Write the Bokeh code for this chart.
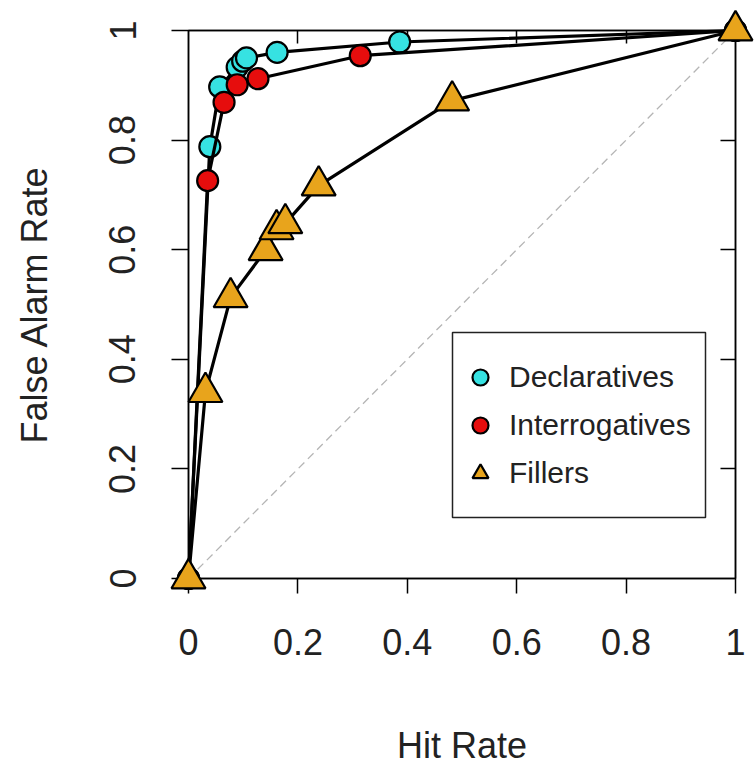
from bokeh.plotting import figure
from bokeh.models import Range1d, LinearAxis, FixedTicker, Legend, LegendItem, BoxAnnotation
from bokeh.embed import file_html
from bokeh.resources import INLINE

# ---- data ----
decl_x = [0.0, 0.039, 0.057, 0.089, 0.099, 0.106, 0.162, 0.386, 1.0]
decl_y = [0.0, 0.788, 0.897, 0.933, 0.944, 0.950, 0.960, 0.979, 1.0]
inter_x = [0.0, 0.035, 0.065, 0.089, 0.127, 0.314, 1.0]
inter_y = [0.0, 0.726, 0.869, 0.901, 0.912, 0.954, 1.0]
fill_x = [0.0, 0.031, 0.077, 0.141, 0.161, 0.177, 0.238, 0.482, 1.0]
fill_y = [0.0, 0.340, 0.513, 0.599, 0.637, 0.648, 0.717, 0.872, 1.0]
chance = [0.0, 1.0]
series_names = ["Declaratives", "Interrogatives", "Fillers"]
tick_values = [0, 0.2, 0.4, 0.6, 0.8, 1]
tick_labels = ["0", "0.2", "0.4", "0.6", "0.8", "1"]

FONT = "Liberation Sans"
TXT = "#222222"

p = figure(width=756, height=772, output_backend="svg", toolbar_location=None,
           x_range=Range1d(0, 1), y_range=Range1d(0, 1),
           x_axis_label="Hit Rate", y_axis_label="False Alarm Rate",
           min_border_left=188, min_border_right=21, min_border_top=30,
           min_border_bottom=194)
p.grid.visible = False
p.outline_line_color = "black"
p.outline_line_width = 1.5
p.background_fill_color = "white"
p.border_fill_color = "white"

overrides = {v: l for v, l in zip(tick_values, tick_labels)}

for ax in p.xaxis:
    ax.ticker = FixedTicker(ticks=tick_values)
    ax.major_label_overrides = overrides
    ax.major_tick_out = 15
    ax.major_tick_in = 0
    ax.minor_tick_out = 0
    ax.minor_tick_in = 0
    ax.major_label_standoff = 35
    ax.axis_label_standoff = 67
for ax in p.yaxis:
    ax.ticker = FixedTicker(ticks=tick_values)
    ax.major_label_overrides = overrides
    ax.major_tick_out = 17
    ax.major_tick_in = 0
    ax.minor_tick_out = 0
    ax.minor_tick_in = 0
    ax.major_label_orientation = "vertical"
    ax.major_label_standoff = 36
    ax.axis_label_standoff = 52
for ax in list(p.xaxis) + list(p.yaxis):
    ax.axis_line_color = "black"
    ax.axis_line_width = 1.5
    ax.major_tick_line_color = "black"
    ax.major_tick_line_width = 1.5
    ax.major_label_text_font = FONT
    ax.major_label_text_font_size = "36px"
    ax.major_label_text_color = TXT
    ax.axis_label_text_font = FONT
    ax.axis_label_text_font_size = "36px"
    ax.axis_label_text_font_style = "normal"
    ax.axis_label_text_color = TXT

# top and right frame edges: inward ticks only, no labels
top = LinearAxis(ticker=FixedTicker(ticks=[], minor_ticks=tick_values[1:-1]),
                 major_tick_in=0, major_tick_out=0, minor_tick_in=13, minor_tick_out=0,
                 major_label_standoff=0, axis_line_width=1.5,
                 minor_tick_line_width=1.5, minor_tick_line_color="black")
right = LinearAxis(ticker=FixedTicker(ticks=[], minor_ticks=tick_values[1:-1]),
                   major_tick_in=0, major_tick_out=0, minor_tick_in=15, minor_tick_out=0,
                   major_label_standoff=0, axis_line_width=1.5,
                   minor_tick_line_width=1.5, minor_tick_line_color="black")
p.add_layout(top, "above")
p.add_layout(right, "right")

# chance diagonal
p.line(chance, chance, line_color="#b5b5b5", line_width=1.3, line_dash="8 5")

colors = ["#36e2e2", "#e60d0d", "#e8a41c"]
series = [(decl_x, decl_y, "circle", 21), (inter_x, inter_y, "circle", 21),
          (fill_x, fill_y, "triangle", 34)]
pts = []
for (xs, ys, mk, sz), col in zip(series, colors):
    ln = p.line(xs, ys, line_color="black", line_width=3.2)
    ln.level = "overlay"
    r = p.scatter(xs, ys, marker=mk, size=sz, fill_color=col, line_color="black",
                  line_width=2.2)
    r.level = "overlay"
    pts.append(r)

legend = Legend(items=[LegendItem(label=n, renderers=[r]) for n, r in zip(series_names, pts)],
                location=(272, 85), padding=0, margin=0, spacing=8,
                glyph_width=40, glyph_height=40, label_standoff=9,
                label_text_font=FONT, label_text_font_size="30px",
                label_text_color=TXT, border_line_alpha=0,
                background_fill_alpha=0)
p.add_layout(legend)
p.add_layout(BoxAnnotation(left=264, right=517, bottom=61, top=246,
                           left_units="screen", right_units="screen",
                           top_units="screen", bottom_units="screen",
                           fill_alpha=0, line_color="#222222", line_width=1.5,
                           line_alpha=1))

open("out.html", "w").write(file_html(p, INLINE))
